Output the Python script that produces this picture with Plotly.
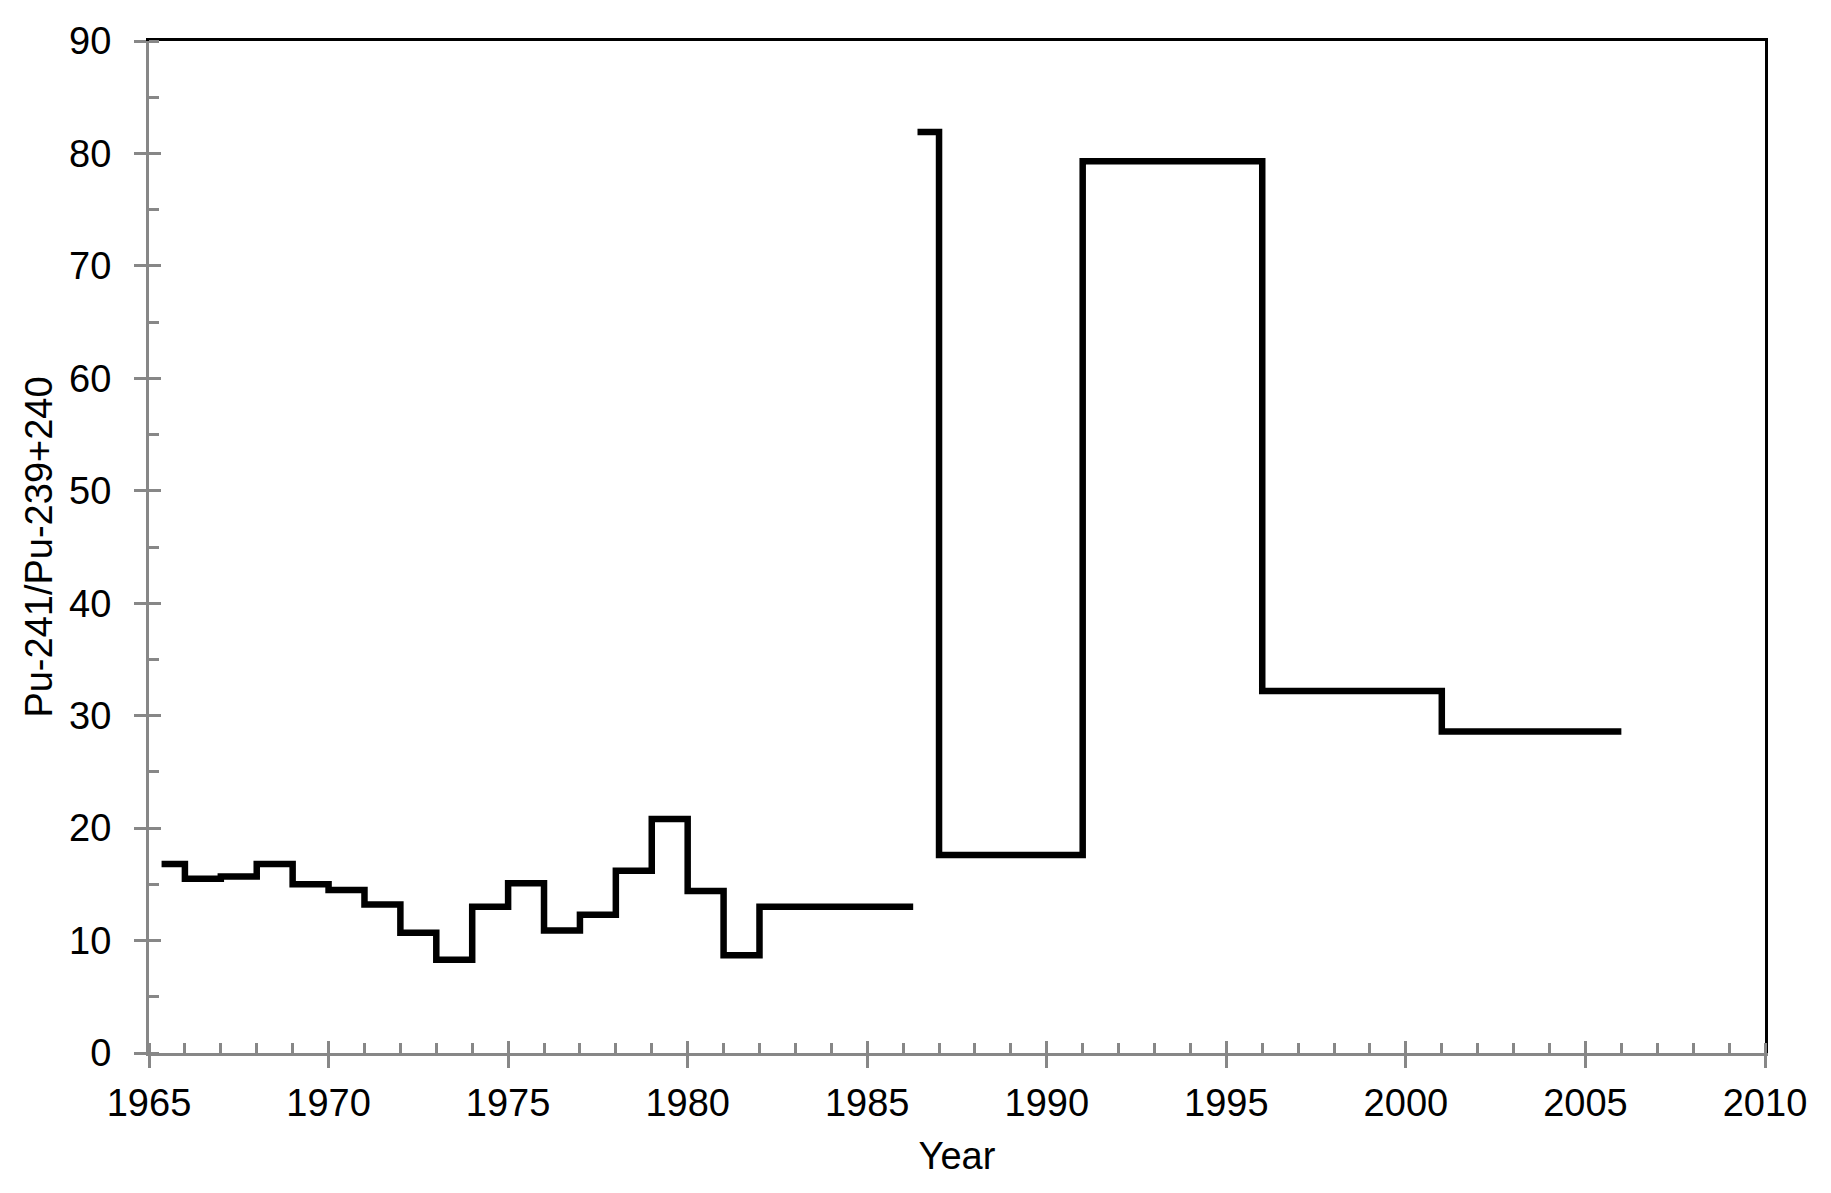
import plotly.graph_objects as go

# Step series 1 (1965-1986)
years_a = [1965.35, 1966, 1967, 1968, 1969, 1970, 1971, 1972, 1973, 1974,
           1975, 1976, 1977, 1978, 1979, 1980, 1981, 1982, 1986.28]
ratio_a = [16.8, 15.5, 15.7, 16.8, 15.0, 14.5, 13.2, 10.7, 8.3, 13.0,
           15.1, 10.9, 12.3, 16.2, 20.8, 14.4, 8.7, 13.0, 13.0]

# Step series 2 (1986-2006)
years_b = [1986.4, 1987, 1991, 1996, 2001, 2006.0]
ratio_b = [81.9, 17.6, 79.3, 32.2, 28.6, 28.6]

x_ticks = [1965, 1970, 1975, 1980, 1985, 1990, 1995, 2000, 2005, 2010]
y_ticks = [0, 10, 20, 30, 40, 50, 60, 70, 80, 90]

GREY = "#878787"
FONT = "Liberation Sans, Arial, sans-serif"
FS = 38

fig = go.Figure()
for xs, ys in [(years_a, ratio_a), (years_b, ratio_b)]:
    fig.add_trace(go.Scatter(x=xs, y=ys, mode="lines", line_shape="hv",
                             line=dict(color="black", width=6.5),
                             showlegend=False, hoverinfo="skip"))

xr = [1965, 2010]
yr = [0, 90]
common_x = dict(range=xr, showgrid=False, zeroline=False, fixedrange=True)
common_y = dict(range=yr, showgrid=False, zeroline=False, fixedrange=True)

fig.update_layout(
    width=1831, height=1193,
    margin=dict(l=141, r=74, t=31, b=148),
    paper_bgcolor="white", plot_bgcolor="white",
    font=dict(family=FONT, size=FS, color="black"),
    xaxis=dict(**common_x, tickvals=x_ticks, ticktext=[str(v) for v in x_ticks],
               ticks="outside", ticklen=12, tickwidth=3, tickcolor=GREY,
               showline=True, linecolor=GREY, linewidth=3,
               minor=dict(dtick=1, tick0=1965, ticks="inside", ticklen=10,
                          tickwidth=3, tickcolor=GREY),
               ticklabelstandoff=2,
               tickfont=dict(size=FS, family=FONT, color="black"),
               title=dict(text="Year", font=dict(size=FS, family=FONT), standoff=20)),
    xaxis2=dict(**common_x, overlaying="x", side="bottom", tickvals=x_ticks,
                ticks="inside", ticklen=12, tickwidth=3, tickcolor=GREY,
                showticklabels=False, showline=False),
    xaxis3=dict(**common_x, overlaying="x", side="top", showline=True,
                linecolor="black", linewidth=3, ticks="", showticklabels=False),
    yaxis=dict(**common_y, tickvals=y_ticks, ticktext=[str(v) for v in y_ticks],
               ticks="outside", ticklen=12, tickwidth=3, tickcolor=GREY,
               showline=True, linecolor=GREY, linewidth=3,
               minor=dict(dtick=5, tick0=0, ticks="inside", ticklen=10,
                          tickwidth=3, tickcolor=GREY),
               ticklabelstandoff=15,
               tickfont=dict(size=FS, family=FONT, color="black"),
               title=dict(text="Pu-241/Pu-239+240", font=dict(size=FS, family=FONT),
                          standoff=5)),
    yaxis2=dict(**common_y, overlaying="y", side="left", tickvals=y_ticks,
                ticks="inside", ticklen=12, tickwidth=3, tickcolor=GREY,
                showticklabels=False, showline=False),
    yaxis3=dict(**common_y, overlaying="y", side="right", showline=True,
                linecolor="black", linewidth=3, ticks="", showticklabels=False),
)

# invisible traces to activate the overlay axes
fig.add_trace(go.Scatter(x=[None], y=[None], xaxis="x2", yaxis="y2",
                         showlegend=False, hoverinfo="skip"))
fig.add_trace(go.Scatter(x=[None], y=[None], xaxis="x3", yaxis="y3",
                         showlegend=False, hoverinfo="skip"))

fig.write_html("out.html")
